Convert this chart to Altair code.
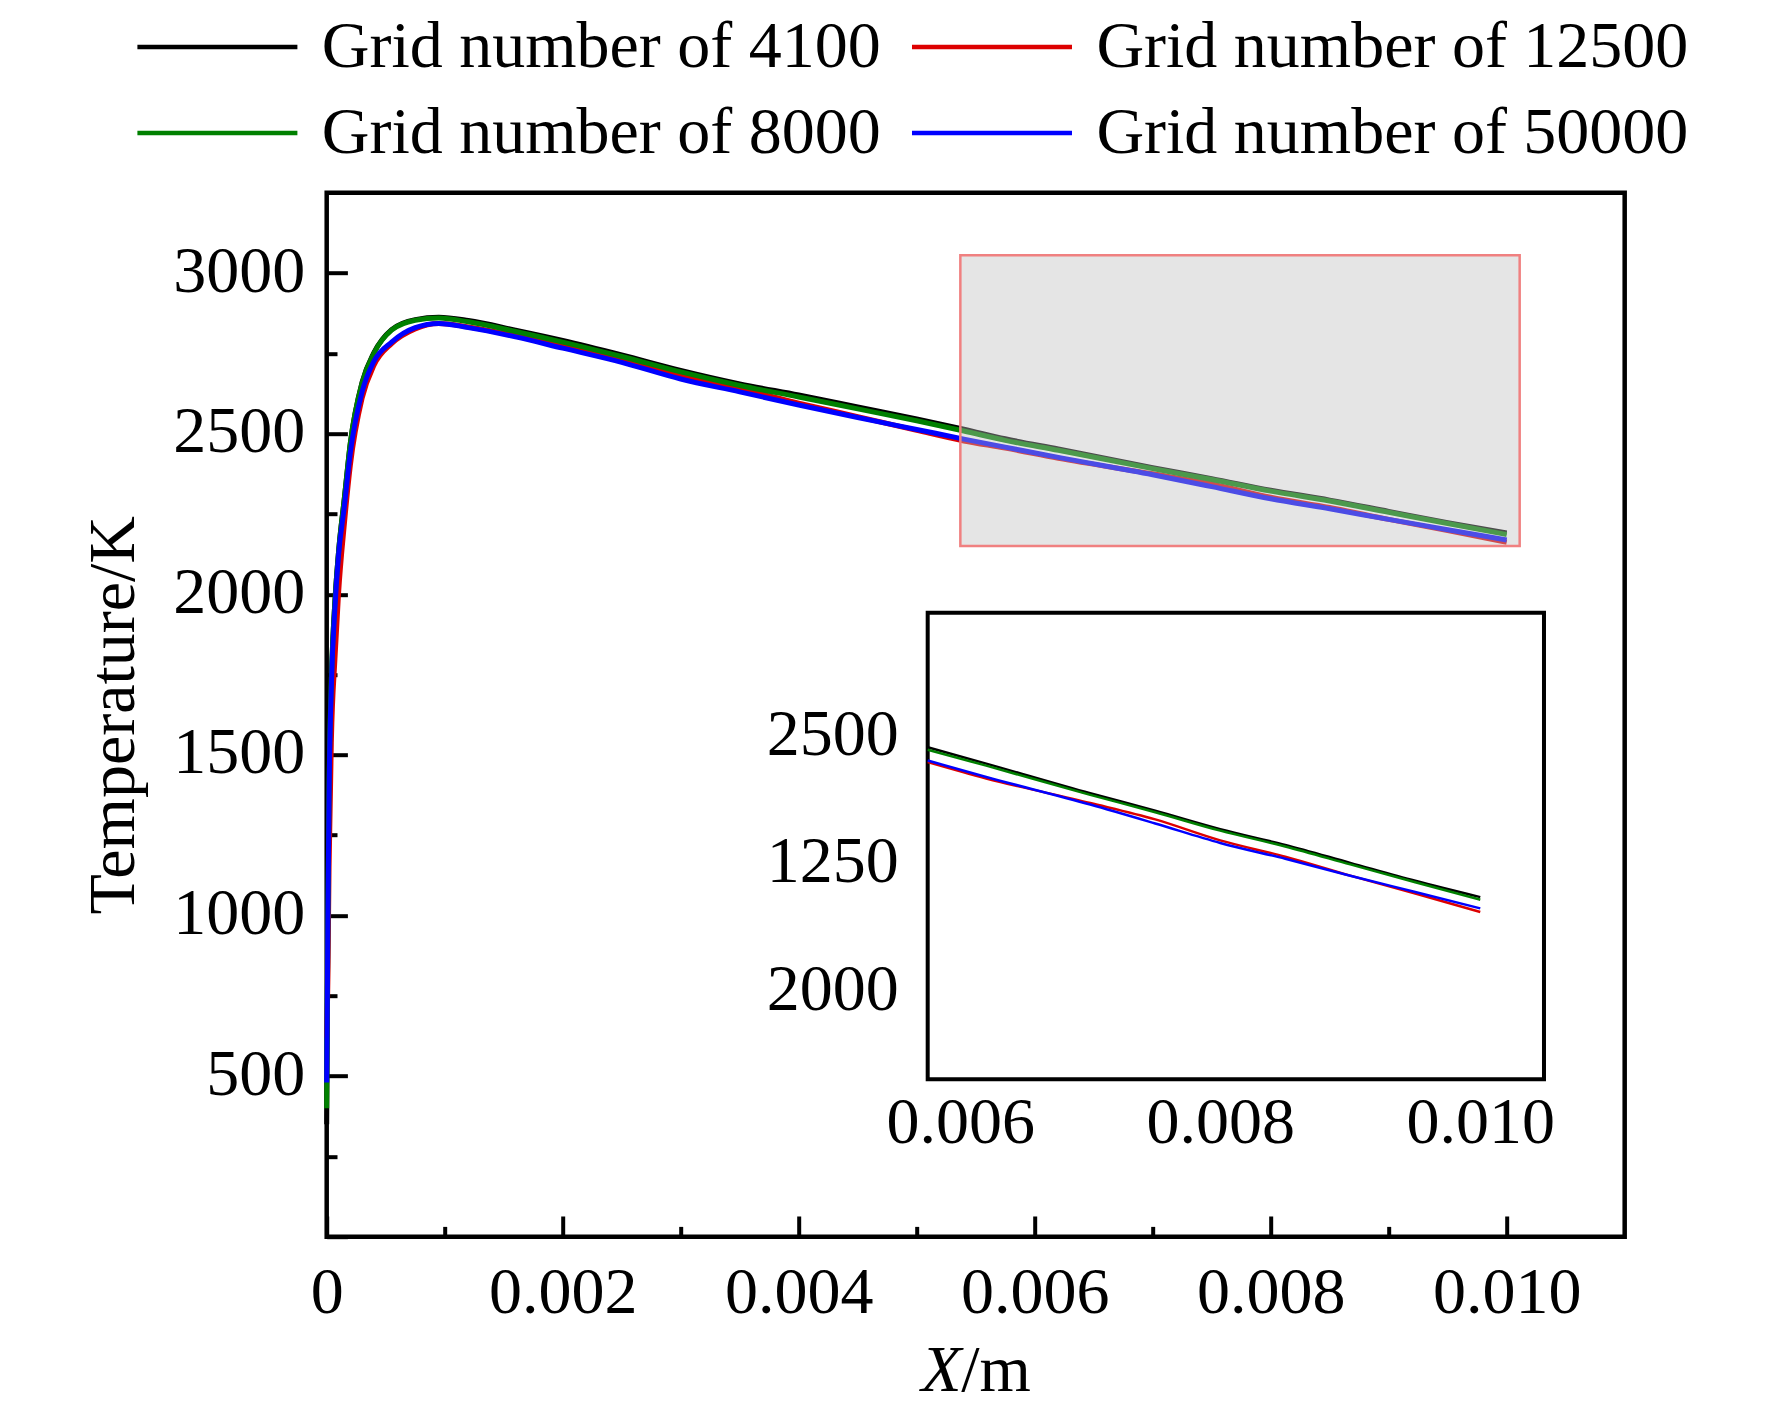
import altair as alt
import pandas as pd

# ---------------- data ----------------
x_pos = [0, 0.00001, 0.00002, 0.00004, 0.00007, 0.0001, 0.00015, 0.0002, 0.0003,
         0.0004, 0.00055, 0.00075, 0.00095, 0.0012, 0.0016, 0.002, 0.0025, 0.003,
         0.0035, 0.004, 0.0045, 0.005, 0.0054, 0.00575, 0.0062, 0.007, 0.0075,
         0.008, 0.0085, 0.009, 0.0095, 0.010]

t_4100 = [350, 1000, 1400, 1740, 1980, 2130, 2300, 2470, 2660, 2752, 2824, 2855, 2862,
          2852, 2822, 2790, 2745, 2697, 2655, 2620, 2583, 2546, 2514, 2484, 2452,
          2394, 2360, 2324, 2293, 2258, 2223, 2191]
t_8000 = [400, 1000, 1400, 1740, 1980, 2130, 2300, 2470, 2658, 2750, 2822, 2853, 2860,
          2848, 2818, 2785, 2740, 2692, 2650, 2614, 2577, 2540, 2508, 2479, 2448,
          2391, 2357, 2321, 2290, 2255, 2220, 2186]
t_12500 = [620, 800, 1150, 1550, 1800, 2000, 2220, 2400, 2610, 2712, 2780, 2826, 2843,
           2832, 2805, 2772, 2730, 2680, 2640, 2595, 2553, 2510, 2477, 2455, 2423,
           2375, 2343, 2302, 2270, 2233, 2198, 2162]
t_50000 = [480, 980, 1380, 1720, 1960, 2120, 2275, 2440, 2630, 2725, 2785, 2830, 2843,
           2830, 2801, 2766, 2722, 2670, 2630, 2589, 2550, 2513, 2483, 2458, 2426,
           2372, 2335, 2297, 2266, 2233, 2201, 2169]

series_names = ["Grid number of 4100", "Grid number of 12500",
                "Grid number of 8000", "Grid number of 50000"]
series_colors = ["#000000", "#dd0000", "#008000", "#0000ff"]
draw_order = [("Grid number of 4100", t_4100), ("Grid number of 12500", t_12500),
              ("Grid number of 8000", t_8000), ("Grid number of 50000", t_50000)]

# main axes
x_major = [0, 0.002, 0.004, 0.006, 0.008, 0.010]
x_minor = [0.001, 0.003, 0.005, 0.007, 0.009]
y_major = [0, 500, 1000, 1500, 2000, 2500, 3000]
y_labels = [500, 1000, 1500, 2000, 2500, 3000]
y_minor = [250, 750, 1250, 1750, 2250, 2750]

# shaded zoom region
shade_x = [0.00537, 0.01011]
shade_y = [2150, 3055]

# inset
inset_x_dom = [0.00575, 0.01049]
inset_y_dom = [1835, 2747]
inset_x_ticks = [0.006, 0.007, 0.008, 0.009, 0.010]
inset_x_labels = [0.006, 0.008, 0.010]
inset_y_ticks = [2000, 2250, 2500]

# ---------------- tables ----------------
rows = []
for name, vals in draw_order:
    for xv, tv in zip(x_pos, vals):
        rows.append({"series": name, "x": xv, "T": tv})
df = pd.DataFrame(rows)

shade_df = pd.DataFrame({"x0": [shade_x[0]], "x1": [shade_x[1]],
                         "y0": [shade_y[0]], "y1": [shade_y[1]]})
frame_df = pd.DataFrame({"x0": [inset_x_dom[0]], "x1": [inset_x_dom[1]],
                         "y0": [inset_y_dom[0]], "y1": [inset_y_dom[1]]})

# ---------------- layout constants ----------------
W, H = 1298, 1044
FONT = "Liberation Serif"
IX0, IX1 = 601, 1217.3      # inset pixel range (x) inside plot area
IY_TOP, IY_BOT = 420, 886.6  # inset pixel range (y)
MAJ, MIN, ITK = 20.7, 10.3, 13

sx = alt.Scale(domain=[0, 0.011], nice=False, zero=False)
sy = alt.Scale(domain=[0, 3250], nice=False, zero=False)
isx = alt.Scale(domain=inset_x_dom, range=[IX0, IX1], nice=False, zero=False)
isy = alt.Scale(domain=inset_y_dom, range=[IY_BOT, IY_TOP], nice=False, zero=False)
cscale = alt.Scale(domain=series_names, range=series_colors)

# ---------------- main panel ----------------
lines = alt.Chart(df).mark_line(strokeWidth=5, interpolate="monotone").encode(
    x=alt.X("x:Q", scale=sx, axis=alt.Axis(
        orient="bottom", values=x_major, ticks=False, domain=False,
        labelExpr="datum.value == 0 ? '0' : format(datum.value, '.3f')",
        labelPadding=23.5, labelFlush=False, labelOverlap=False,
        title="/m", titleX=634, titleY=154, titleAlign="left",
        titleBaseline="alphabetic")),
    y=alt.Y("T:Q", scale=sy, axis=alt.Axis(
        orient="left", values=y_labels, format="d", ticks=False, domain=False,
        labelPadding=22, labelFlush=False, labelOverlap=False, labelOffset=-2,
        title="Temperature/K", titleX=-193, titleY=H / 2, titleAngle=270,
        titleAlign="center", titleBaseline="alphabetic")),
    color=alt.Color("series:N", scale=cscale, sort=series_names, legend=alt.Legend(
        title=None, orient="none", direction="horizontal", legendX=-72.3,
        legendY=-178.7, columns=2, columnPadding=21.6, rowPadding=20,
        symbolType="M-15,0H1", symbolSize=400, symbolStrokeWidth=4.5,
        labelFont=FONT, labelFontSize=66, labelColor="black",
        labelLimit=2000, labelOffset=1.4, padding=0)),
)

shade = alt.Chart(shade_df).mark_rect(
    fill="#bebebe", fillOpacity=0.4, stroke="#f08080", strokeWidth=2.5, strokeOpacity=1
).encode(
    x=alt.X("x0:Q", scale=sx, axis=alt.Axis(
        orient="bottom", offset=-MAJ, values=x_major, tickSize=MAJ, labels=False,
        domain=False, title="X", titleFontStyle="italic", titleX=594,
        titleY=154 + MAJ, titleAlign="left", titleBaseline="alphabetic")),
    x2="x1",
    y=alt.Y("y0:Q", scale=sy, axis=alt.Axis(
        orient="left", offset=-MAJ, values=y_major, tickSize=MAJ, labels=False,
        domain=False, title=None)),
    y2="y1",
)

minor = alt.Chart(shade_df).mark_point(opacity=0).encode(
    x=alt.X("x0:Q", scale=sx, axis=alt.Axis(
        orient="bottom", offset=-MIN, values=x_minor, tickSize=MIN, labels=False,
        domain=False, title=None)),
    y=alt.Y("y0:Q", scale=sy, axis=alt.Axis(
        orient="left", offset=-MIN, values=y_minor, tickSize=MIN, labels=False,
        domain=False, title=None)),
)

main = alt.layer(lines, shade, minor).resolve_axis(x="independent", y="independent")

# ---------------- inset panel ----------------
frame = alt.Chart(frame_df).mark_rect(fill="white", stroke="black", strokeWidth=4).encode(
    x=alt.X("x0:Q", scale=isx, axis=alt.Axis(
        orient="bottom", offset=-(H - IY_BOT), values=inset_x_labels, format=".3f",
        ticks=False, domain=False, labelPadding=11.5, labelFlush=False,
        labelOverlap=False, title=None)),
    x2="x1",
    y=alt.Y("y0:Q", scale=isy, axis=alt.Axis(
        orient="left", offset=-IX0, values=inset_y_ticks,
        labelExpr="datum.value == 2250 ? '1250' : format(datum.value, 'd')",
        ticks=False, domain=False, labelPadding=29.5, labelFlush=False,
        labelOverlap=False, labelOffset=-5, title=None)),
    y2="y1",
)

inset_lines = alt.Chart(df).transform_filter(
    f"datum.x >= {inset_x_dom[0]}"
).mark_line(strokeWidth=2.5, interpolate="monotone").encode(
    x=alt.X("x:Q", scale=isx, axis=None),
    y=alt.Y("T:Q", scale=isy, axis=None),
    color=alt.Color("series:N", scale=cscale, sort=series_names, legend=None),
)

inset_ticks = alt.Chart(frame_df).mark_point(opacity=0).encode(
    x=alt.X("x0:Q", scale=isx, axis=alt.Axis(
        orient="bottom", offset=-(H - IY_BOT) - ITK, values=inset_x_ticks,
        tickSize=ITK, labels=False, domain=False, title=None)),
    y=alt.Y("y0:Q", scale=isy, axis=alt.Axis(
        orient="left", offset=-IX0 - ITK, values=inset_y_ticks, tickSize=ITK,
        labels=False, domain=False, title=None)),
)

inset = alt.layer(frame, inset_lines, inset_ticks).resolve_axis(x="independent", y="independent")

chart = alt.layer(main, inset).resolve_scale(
    x="independent", y="independent"
).resolve_axis(
    x="independent", y="independent"
).properties(
    width=W, height=H,
    padding={"left": 318.7, "top": 184.7, "right": 130, "bottom": 169},
    autosize=alt.AutoSizeParams(type="none"),
).configure_view(
    stroke="black", strokeWidth=4.5
).configure_axis(
    labelFont=FONT, titleFont=FONT, labelFontSize=66, titleFontSize=66,
    labelColor="black", titleColor="black", tickColor="black", tickWidth=4,
    grid=False, titleFontWeight="normal", labelFontWeight="normal", tickCap="butt",
)

chart.save("out.html", embed_options={"renderer": "svg", "actions": False})
